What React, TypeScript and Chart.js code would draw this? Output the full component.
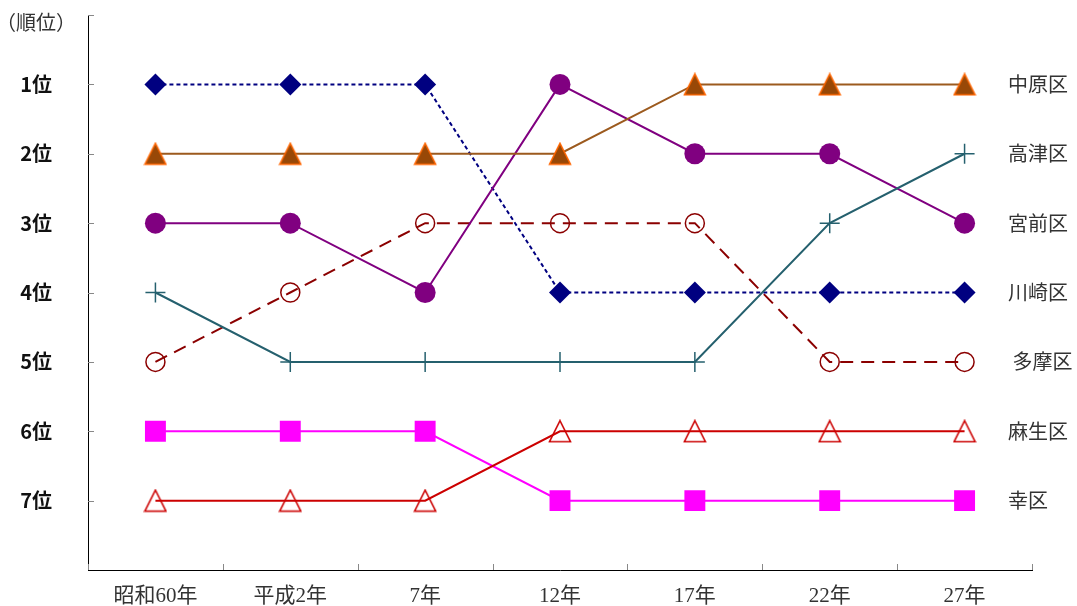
import React, { useEffect, useRef } from "react";
import { Chart, registerables } from "chart.js";

Chart.register(...registerables);

const categories = ["昭和60年", "平成2年", "7年", "12年", "17年", "22年", "27年"];
const rankTicks = [1, 2, 3, 4, 5, 6, 7];
const seriesNames = ["中原区", "高津区", "宮前区", "川崎区", " 多摩区", "麻生区", "幸区"];
const nakahara = [2, 2, 2, 2, 1, 1, 1];
const takatsu = [4, 5, 5, 5, 5, 3, 2];
const miyamae = [3, 3, 4, 1, 2, 2, 3];
const kawasaki = [1, 1, 1, 4, 4, 4, 4];
const tama = [5, 4, 3, 3, 3, 5, 5];
const asao = [7, 7, 7, 6, 6, 6, 6];
const saiwai = [6, 6, 6, 7, 7, 7, 7];

function makeTriangle(fill: string, stroke: string, lw: number): HTMLCanvasElement {
  const c = document.createElement("canvas");
  c.width = 24;
  c.height = 24;
  const ctx = c.getContext("2d")!;
  ctx.beginPath();
  ctx.moveTo(12, 1.5);
  ctx.lineTo(22.5, 22.5);
  ctx.lineTo(1.5, 22.5);
  ctx.closePath();
  if (fill !== "none") {
    ctx.fillStyle = fill;
    ctx.fill();
  }
  ctx.strokeStyle = stroke;
  ctx.lineWidth = lw;
  ctx.stroke();
  return c;
}

const decorPlugin = {
  id: "decor",
  afterDraw(chart: any) {
    const ctx = chart.ctx;
    const x = chart.scales.x;
    const y = chart.scales.y;
    const area = chart.chartArea;
    ctx.save();
    ctx.strokeStyle = "#888";
    ctx.lineWidth = 1;
    for (let v = 0; v <= 7; v++) {
      const py = Math.round(y.getPixelForValue(v)) + 0.5;
      ctx.beginPath();
      ctx.moveTo(area.left, py);
      ctx.lineTo(area.left + 6, py);
      ctx.stroke();
    }
    const n = categories.length;
    for (let i = 0; i <= n; i++) {
      let px: number;
      if (i === 0) px = area.left;
      else if (i === n) px = area.right;
      else px = (x.getPixelForValue(i - 1) + x.getPixelForValue(i)) / 2;
      px = Math.round(px) + 0.5;
      ctx.beginPath();
      ctx.moveTo(px, area.bottom);
      ctx.lineTo(px, area.bottom - 6);
      ctx.stroke();
    }
    ctx.fillStyle = "#333";
    ctx.font = "20px 'Noto Sans CJK JP'";
    ctx.textAlign = "left";
    ctx.textBaseline = "middle";
    ctx.fillText("（順位）", -4, 22);
    chart.data.datasets.forEach((ds: any) => {
      const last = ds.data[ds.data.length - 1];
      const py = y.getPixelForValue(last);
      ctx.fillText(ds.label, area.right - 24, py);
    });
    ctx.restore();
  },
};

export default function App() {
  const ref = useRef<HTMLCanvasElement>(null);
  useEffect(() => {
    const triFilled = makeTriangle("#984807", "#FF6600", 1.5);
    const triOpen = makeTriangle("none", "#CC0000", 1.6);
    const common = { borderWidth: 2, pointBorderWidth: 1.5, tension: 0 };
    const chart = new Chart(ref.current!, {
      type: "line",
      data: {
        labels: categories,
        datasets: [
          { ...common, label: seriesNames[0], data: nakahara, borderColor: "#9C5A1E", pointStyle: triFilled as any, pointRadius: 12 },
          { ...common, label: seriesNames[1], data: takatsu, borderColor: "#25606E", pointStyle: "cross", pointRadius: 10, pointBorderColor: "#25606E", pointBorderWidth: 1.5 },
          { ...common, label: seriesNames[2], data: miyamae, borderColor: "#800080", pointStyle: "circle", pointRadius: 10.5, pointBackgroundColor: "#800080", pointBorderColor: "#800080", pointBorderWidth: 0 },
          { ...common, label: seriesNames[3], data: kawasaki, borderColor: "#000080", borderDash: [4, 3], pointStyle: "rectRot", pointRadius: 11, pointBackgroundColor: "#000080", pointBorderColor: "#000080", pointBorderWidth: 0 },
          { ...common, label: seriesNames[4], data: tama, borderColor: "#8B0000", borderDash: [13, 8], pointStyle: "circle", pointRadius: 9.5, pointBackgroundColor: "rgba(0,0,0,0)", pointBorderColor: "#8B0000", pointBorderWidth: 1.5 },
          { ...common, label: seriesNames[5], data: asao, borderColor: "#CC0000", pointStyle: triOpen as any, pointRadius: 12 },
          { ...common, label: seriesNames[6], data: saiwai, borderColor: "#FF00FF", pointStyle: "rect", pointRadius: 14.8, pointBackgroundColor: "#FF00FF", pointBorderColor: "#FF00FF", pointBorderWidth: 0 },
        ],
      },
      options: {
        animation: false,
        responsive: true,
        maintainAspectRatio: false,
        layout: { padding: { left: 0, right: 45, top: 15, bottom: 0 } },
        plugins: { legend: { display: false }, tooltip: { enabled: false } },
        scales: {
          x: {
            type: "category",
            offset: true,
            grid: { display: false, drawTicks: false },
            border: { display: true, color: "#000", width: 1 },
            ticks: {
              color: "#333",
              padding: 14,
              maxRotation: 0,
              autoSkip: false,
              font: { family: "'Liberation Serif', 'Noto Sans CJK JP'", size: 21 },
            },
            afterFit(scale: any) {
              scale.height = 36;
              scale.paddingLeft = 0;
              scale.paddingRight = 0;
            },
          },
          y: {
            min: 0,
            max: 8,
            reverse: true,
            grid: { display: false, drawTicks: false },
            border: { display: true, color: "#000", width: 1 },
            afterBuildTicks(scale: any) {
              scale.ticks = rankTicks.map((v) => ({ value: v }));
            },
            ticks: {
              color: "#111",
              padding: 36,
              font: { family: "'Noto Sans CJK JP'", size: 20, weight: "bold" },
              callback: (v: any) => `${v}位`,
            },
            afterFit(scale: any) {
              scale.width = 88;
              scale.paddingTop = 0;
              scale.paddingBottom = 0;
            },
          },
        },
      },
      plugins: [decorPlugin],
    });
    return () => chart.destroy();
  }, []);
  return (
    <div style={{ position: "fixed", left: 0, top: 0, width: 1077, height: 606, background: "#fff" }}>
      <canvas ref={ref} />
    </div>
  );
}
